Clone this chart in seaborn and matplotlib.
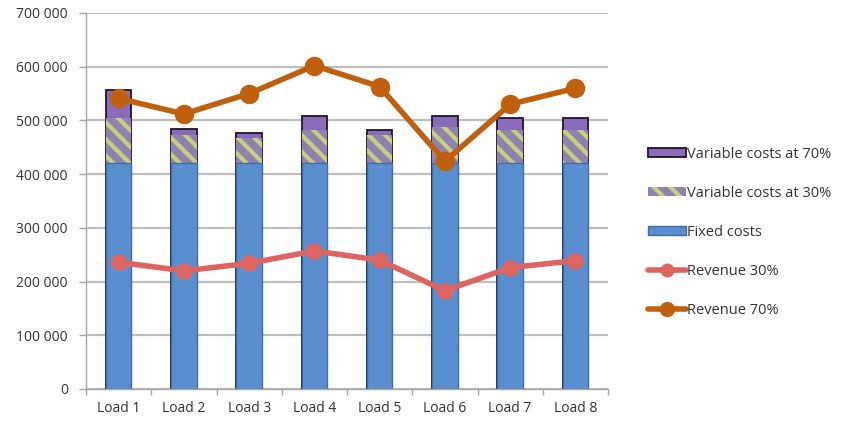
import matplotlib
matplotlib.use("Agg")
import matplotlib.pyplot as plt
import seaborn as sns
import numpy as np
from matplotlib.patches import Patch
from matplotlib.lines import Line2D
from matplotlib.ticker import FuncFormatter, FixedLocator

loads = ["Load 1", "Load 2", "Load 3", "Load 4", "Load 5", "Load 6", "Load 7", "Load 8"]
fixed_costs = [420000, 420000, 420000, 420000, 420000, 420000, 420000, 420000]
var_costs_30 = [84000, 53000, 48000, 63000, 53000, 67000, 63000, 63000]
var_costs_70 = [53000, 11000, 9000, 26000, 10000, 22000, 21000, 21000]
revenue_30 = [236000, 220000, 234000, 257000, 240000, 183000, 226000, 239000]
revenue_70 = [541000, 512000, 550000, 602000, 563000, 424000, 530000, 560000]

sns.set_style("white")
plt.rcParams["font.family"] = ["Open Sans", "DejaVu Sans"]
plt.rcParams["hatch.linewidth"] = 3.0

fig = plt.figure(figsize=(8.56, 4.24), dpi=100)
ax = fig.add_axes([86 / 856, 1 - 389 / 424, (608 - 86) / 856, (389 - 13) / 424])

fixed = np.array(fixed_costs)
top30 = fixed + np.array(var_costs_30)
top70 = top30 + np.array(var_costs_70)

c_fixed = "#5A8FCF"
c_fixed_edge = "#3C6FA8"
c_v30_face = "#8F82AE"
c_v30_hatch = "#C7CF7F"
c_v70 = "#8A6BB8"
c_v70_edge = "#1E1530"
c_r30 = "#DE6460"
c_r70 = "#C0600C"
bw = 0.39

sns.barplot(x=loads, y=top70, color=c_v70, saturation=1, width=bw,
            edgecolor=c_v70_edge, linewidth=1.3, ax=ax, zorder=2)
sns.barplot(x=loads, y=top30, color=c_v30_face, saturation=1, width=bw,
            edgecolor=c_v30_hatch, linewidth=0, hatch="\\\\", ax=ax, zorder=2)
sns.barplot(x=loads, y=fixed, color=c_fixed, saturation=1, width=bw,
            edgecolor=c_fixed_edge, linewidth=1.0, ax=ax, zorder=2)

sns.pointplot(x=loads, y=revenue_30, color=c_r30, markers="o", markersize=9,
              linewidth=4, errorbar=None, ax=ax, zorder=3)
sns.pointplot(x=loads, y=revenue_70, color=c_r70, markers="o", markersize=11,
              linewidth=4, errorbar=None, ax=ax, zorder=3)

ax.set_xlim(-0.5, len(loads) - 0.5)
ax.set_ylim(0, 700000)
ax.set_yticks(np.arange(0, 700001, 100000))
ax.yaxis.set_major_formatter(FuncFormatter(lambda v, p: "0" if v == 0 else f"{int(v):,}".replace(",", " ")))
ax.set_axisbelow(True)
ax.yaxis.grid(True, color="#BEBEBE", linewidth=1.6)
ax.xaxis.grid(False)
ax.set_xlabel("")
ax.set_ylabel("")

for s in ["top", "right"]:
    ax.spines[s].set_visible(False)
for s in ["left", "bottom"]:
    ax.spines[s].set_color("#A6A6A6")
    ax.spines[s].set_linewidth(1.0)

ax.tick_params(axis="y", which="major", length=5, width=1, color="#A6A6A6",
               labelsize=10, labelcolor="#333333", pad=8, direction="out", left=True)
ax.tick_params(axis="x", which="major", length=0, labelsize=10, labelcolor="#333333", pad=9)
ax.xaxis.set_minor_locator(FixedLocator(np.arange(-0.5, len(loads), 1.0)))
ax.tick_params(axis="x", which="minor", length=4, width=1, color="#A6A6A6", direction="out", bottom=True)

handles = [
    Patch(facecolor=c_v70, edgecolor=c_v70_edge, linewidth=1.3),
    Patch(facecolor=c_v30_face, edgecolor=c_v30_hatch, linewidth=0, hatch="\\\\"),
    Patch(facecolor=c_fixed, edgecolor=c_fixed_edge, linewidth=1.0),
    Line2D([], [], color=c_r30, linewidth=4, marker="o", markersize=9),
    Line2D([], [], color=c_r70, linewidth=4, marker="o", markersize=10),
]
labels = ["Variable costs at 70%", "Variable costs at 30%", "Fixed costs", "Revenue 30%", "Revenue 70%"]
fig.legend(handles, labels, loc="upper left", bbox_to_anchor=(642 / 856, 1 - 141 / 424),
           frameon=False, fontsize=10.5, handlelength=2.6, handleheight=0.6,
           handletextpad=0.1, labelspacing=1.64, borderaxespad=0, labelcolor="#333333")

fig.savefig("out.png", dpi=100)
